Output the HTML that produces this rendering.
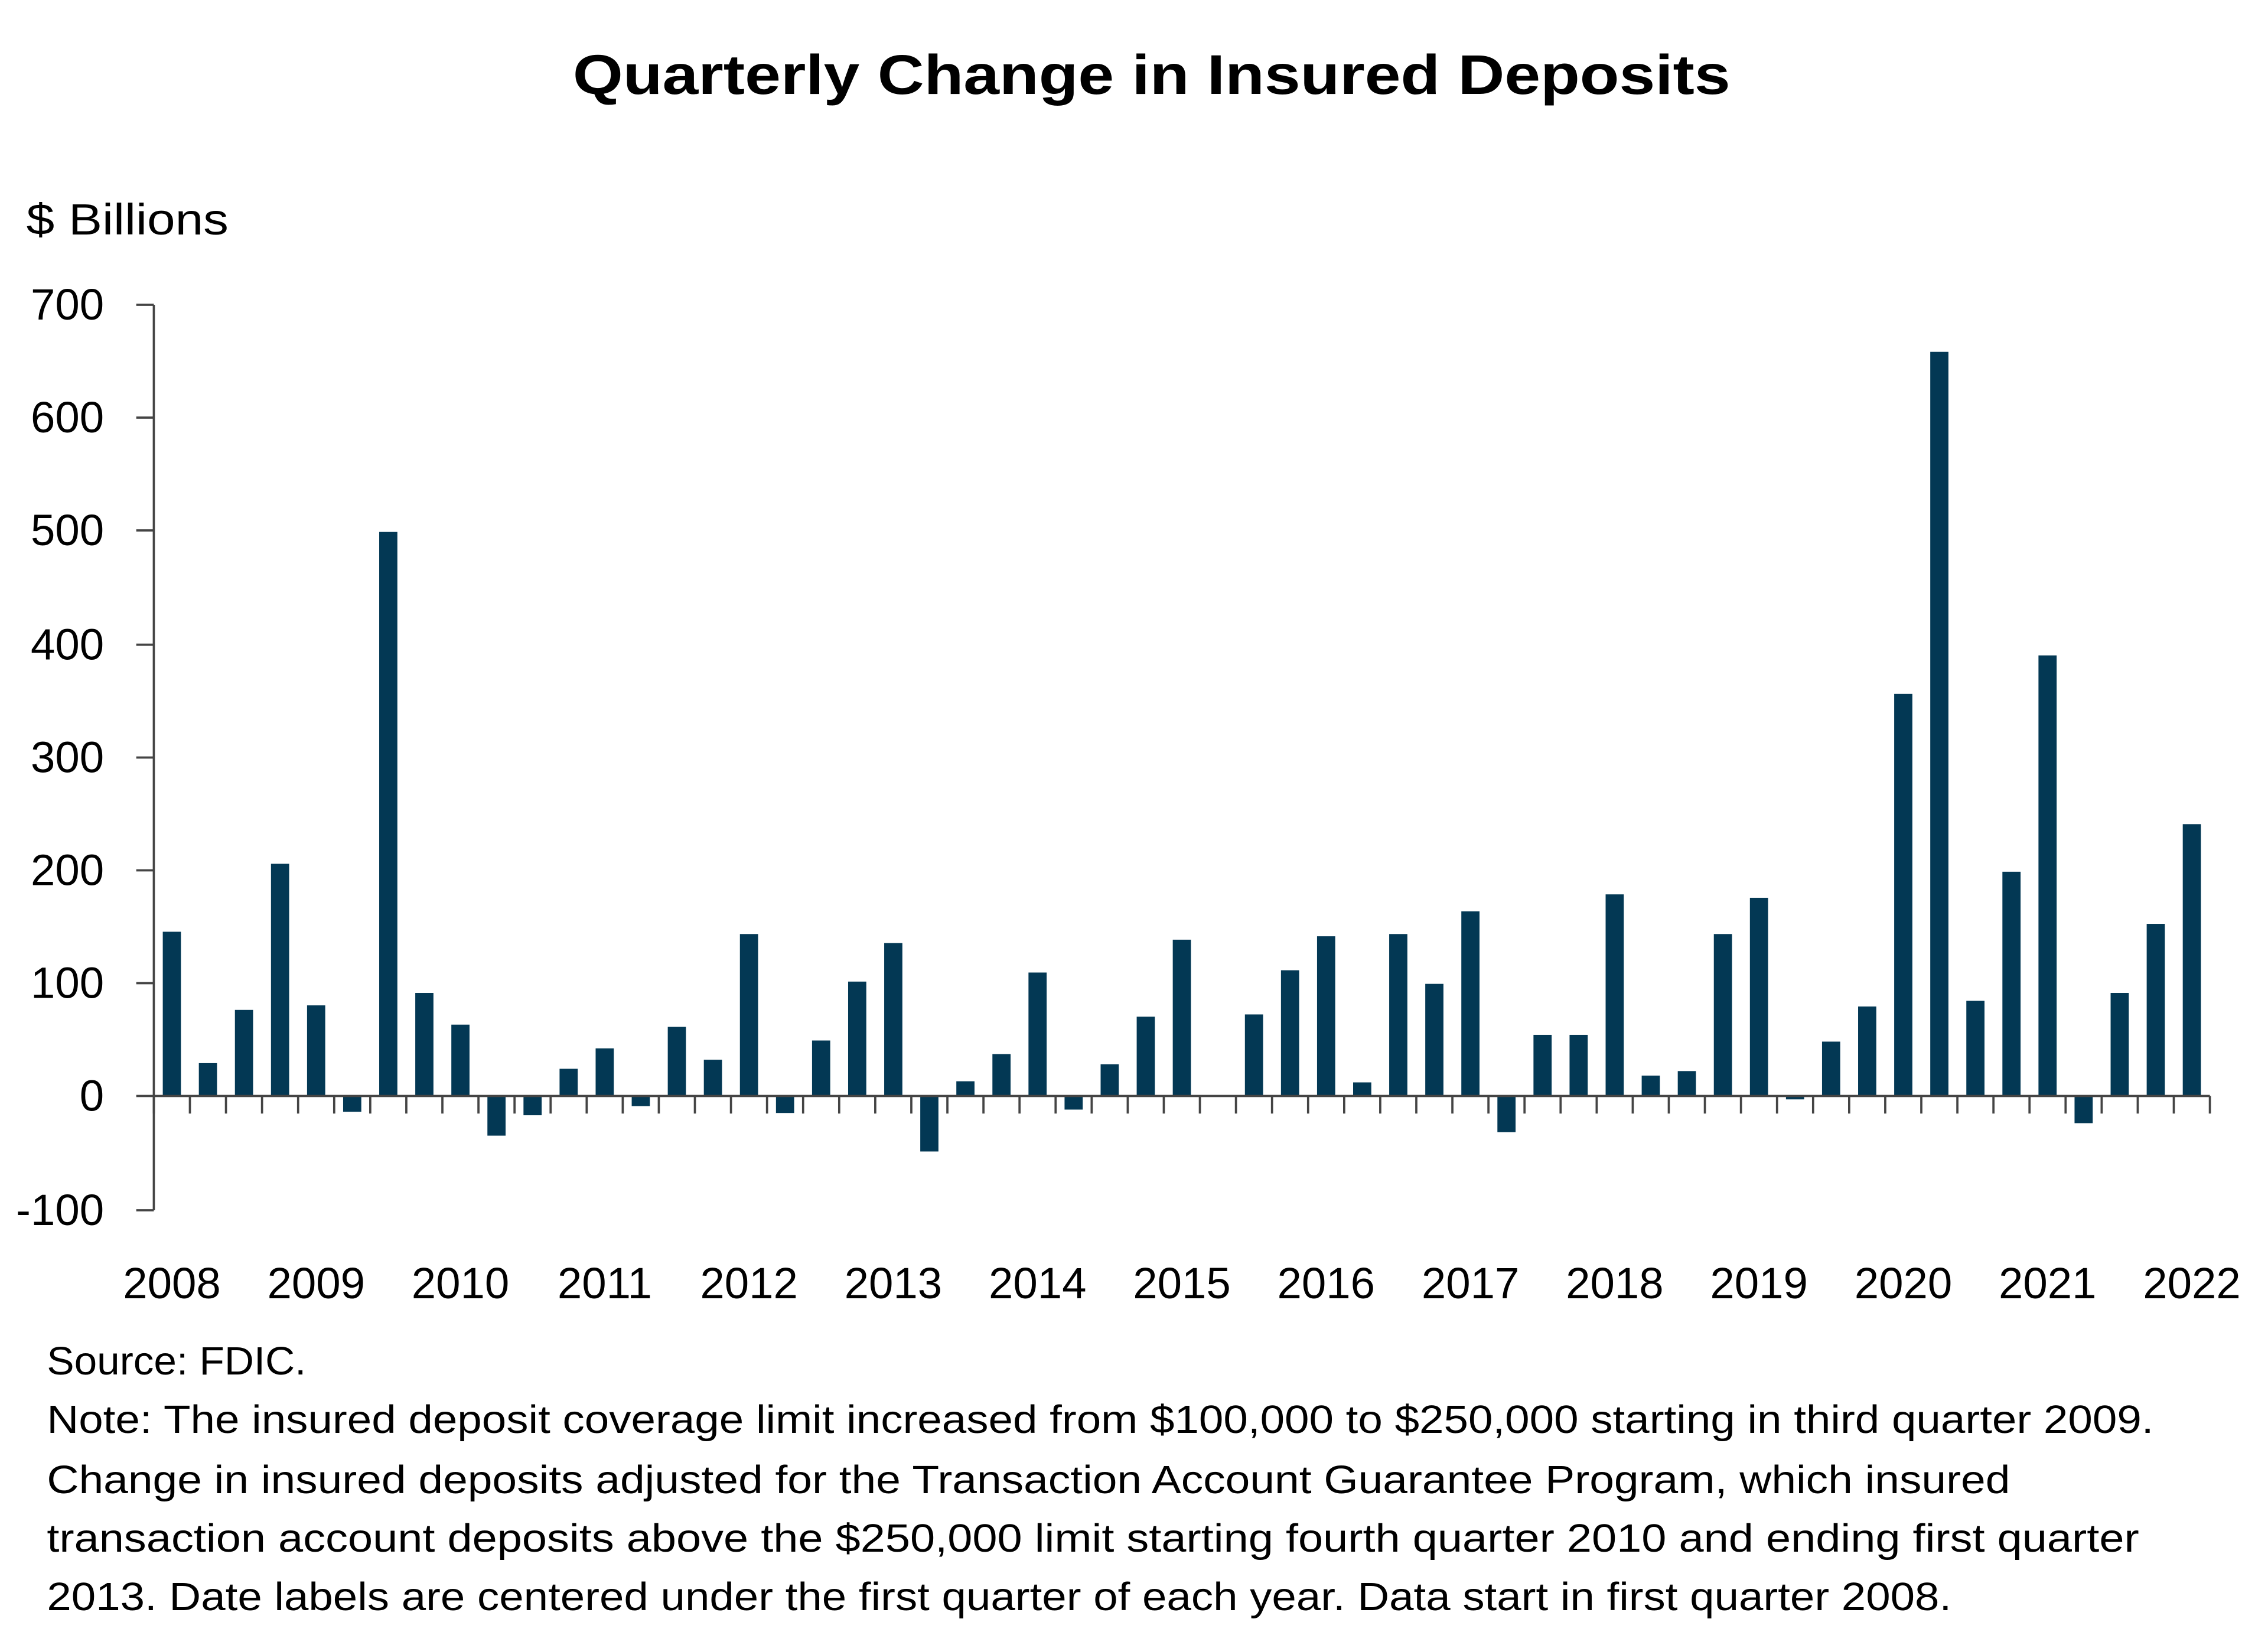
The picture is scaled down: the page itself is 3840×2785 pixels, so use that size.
<!DOCTYPE html>
<html><head><meta charset="utf-8"><style>
html,body{margin:0;padding:0;background:#fff;}
svg{display:block;}
text{font-family:"Liberation Sans",sans-serif;fill:#000;}
</style></head><body>
<svg width="3840" height="2785" viewBox="0 0 1548 1122.7" preserveAspectRatio="none" xmlns="http://www.w3.org/2000/svg">
<text x="786" y="64" text-anchor="middle" font-size="38" font-weight="bold" textLength="790" lengthAdjust="spacingAndGlyphs">Quarterly Change in Insured Deposits</text>
<text x="18" y="160" font-size="30" textLength="138" lengthAdjust="spacingAndGlyphs">$ Billions</text>
<g font-size="30" text-anchor="end">
<text x="71" y="218">700</text><text x="71" y="295">600</text><text x="71" y="372">500</text><text x="71" y="450">400</text><text x="71" y="527">300</text><text x="71" y="604">200</text><text x="71" y="681">100</text><text x="71" y="758">0</text><text x="71" y="836">-100</text>
</g>
<g stroke="#444" stroke-width="1.5">
<line x1="105" y1="208" x2="105" y2="826"/>
<line x1="93" y1="208" x2="105" y2="208"/><line x1="93" y1="285" x2="105" y2="285"/><line x1="93" y1="362" x2="105" y2="362"/><line x1="93" y1="440" x2="105" y2="440"/><line x1="93" y1="517" x2="105" y2="517"/><line x1="93" y1="594" x2="105" y2="594"/><line x1="93" y1="671" x2="105" y2="671"/><line x1="93" y1="748" x2="105" y2="748"/><line x1="93" y1="826" x2="105" y2="826"/>
</g>
<g id="bars" fill="#033854"></g>
<g id="xax" stroke="#444" stroke-width="1.5"></g>
<g font-size="30" text-anchor="middle" id="yrs"></g>
<g font-size="27">
<text x="32" y="938" textLength="177" lengthAdjust="spacingAndGlyphs">Source: FDIC.</text>
<text x="32" y="978" textLength="1438" lengthAdjust="spacingAndGlyphs">Note: The insured deposit coverage limit increased from $100,000 to $250,000 starting in third quarter 2009.</text>
<text x="32" y="1019" textLength="1340" lengthAdjust="spacingAndGlyphs">Change in insured deposits adjusted for the Transaction Account Guarantee Program, which insured</text>
<text x="32" y="1059" textLength="1428" lengthAdjust="spacingAndGlyphs">transaction account deposits above the $250,000 limit starting fourth quarter 2010 and ending first quarter</text>
<text x="32" y="1099" textLength="1300" lengthAdjust="spacingAndGlyphs">2013. Date labels are centered under the first quarter of each year. Data start in first quarter 2008.</text>
</g>
<script>
var v=[145,29,76,205,80,-14,498,91,63,-35,-17,24,42,-9,61,32,143,-15,49,101,135,-49,13,37,109,-12,28,70,138,0,72,111,141,12,143,99,163,-32,54,54,178,18,22,143,175,-3,48,79,355,657,84,198,389,-24,91,152,240];
var ns="http://www.w3.org/2000/svg",b=document.getElementById("bars"),xa=document.getElementById("xax"),yr=document.getElementById("yrs");
var step=24.62,x0=117.3,z=748,k=0.773;
function el(t,a,p){var e=document.createElementNS(ns,t);for(var i in a)e.setAttribute(i,a[i]);p.appendChild(e);return e;}
v.forEach(function(d,i){var cx=x0+i*step,h=d*k;el("rect",{x:cx-6.2,y:h>=0?z-h:z,width:12.4,height:Math.abs(h)},b);});
el("line",{x1:105,y1:z,x2:x0-step/2+57*step,y2:z},xa);
for(var i=0;i<=57;i++){var tx=x0-step/2+i*step;el("line",{x1:tx,y1:z,x2:tx,y2:z+12},xa);}
for(var y=0;y<15;y++){var t=el("text",{x:x0+y*4*step,y:886},yr);t.textContent=2008+y;}
</script>
</svg>
</body></html>
